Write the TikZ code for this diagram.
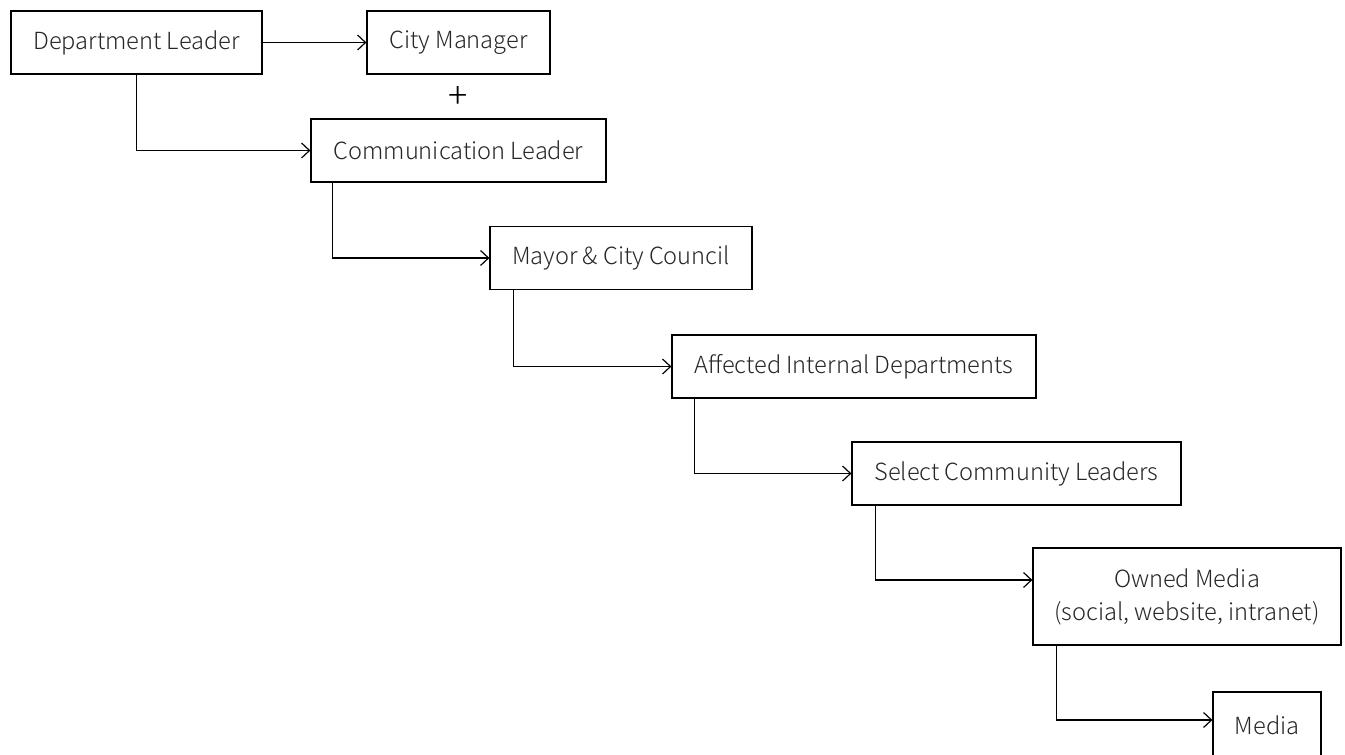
\documentclass[tikz,border=0pt]{standalone}
\usepackage{fontspec}
\setmainfont{Noto Sans CJK SC}[UprightFont=* Light]
\usetikzlibrary{arrows.meta}
\begin{document}
\begin{tikzpicture}[x=1pt,y=-1pt,
  box/.style={draw, line width=1.2pt, inner sep=0pt, minimum height=63pt, align=center,
    font=\fontsize{23.6}{33}\selectfont, text=black!85},
  arr/.style={line width=1.2pt, -{Straight Barb[length=8pt,width=15pt,line width=1.2pt]}}]
\useasboundingbox (0,0) rectangle (1345,755);
\node[box, minimum width=251pt] (dl) at (136.5,42.5) {Department Leader};
\node[box, minimum width=183pt] (cm) at (458.5,42.5) {City Manager};
\node[font=\fontsize{36}{36}\selectfont] (plus) at (458,97) {+};
\node[box, minimum width=295pt] (cl) at (458.5,150.5) {Communication Leader};
\node[box, minimum width=262pt] (mc) at (621,258) {Mayor \& City Council};
\node[box, minimum width=364pt] (aid) at (854,366.5) {Affected Internal Departments};
\node[box, minimum width=329pt] (scl) at (1016.5,473.5) {Select Community Leaders};
\node[box, minimum width=308pt, minimum height=97pt] (om) at (1187,596.5) {Owned Media\\(social, website, intranet)};
\node[box, minimum width=108pt, minimum height=66pt] (md) at (1267,725) {Media};
\draw[arr] (dl.east) -- (cm.west);
\draw[arr] (dl.south) |- (cl.west);
\draw[arr] ([xshift=22pt]cl.south west) |- (mc.west);
\draw[arr] ([xshift=24pt]mc.south west) |- (aid.west);
\draw[arr] ([xshift=23pt]aid.south west) |- (scl.west);
\draw[arr] ([xshift=24pt]scl.south west) |- ([yshift=16.5pt]om.west);
\draw[arr] ([xshift=24pt]om.south west) |- ([yshift=5pt]md.west);
\end{tikzpicture}
\end{document}
